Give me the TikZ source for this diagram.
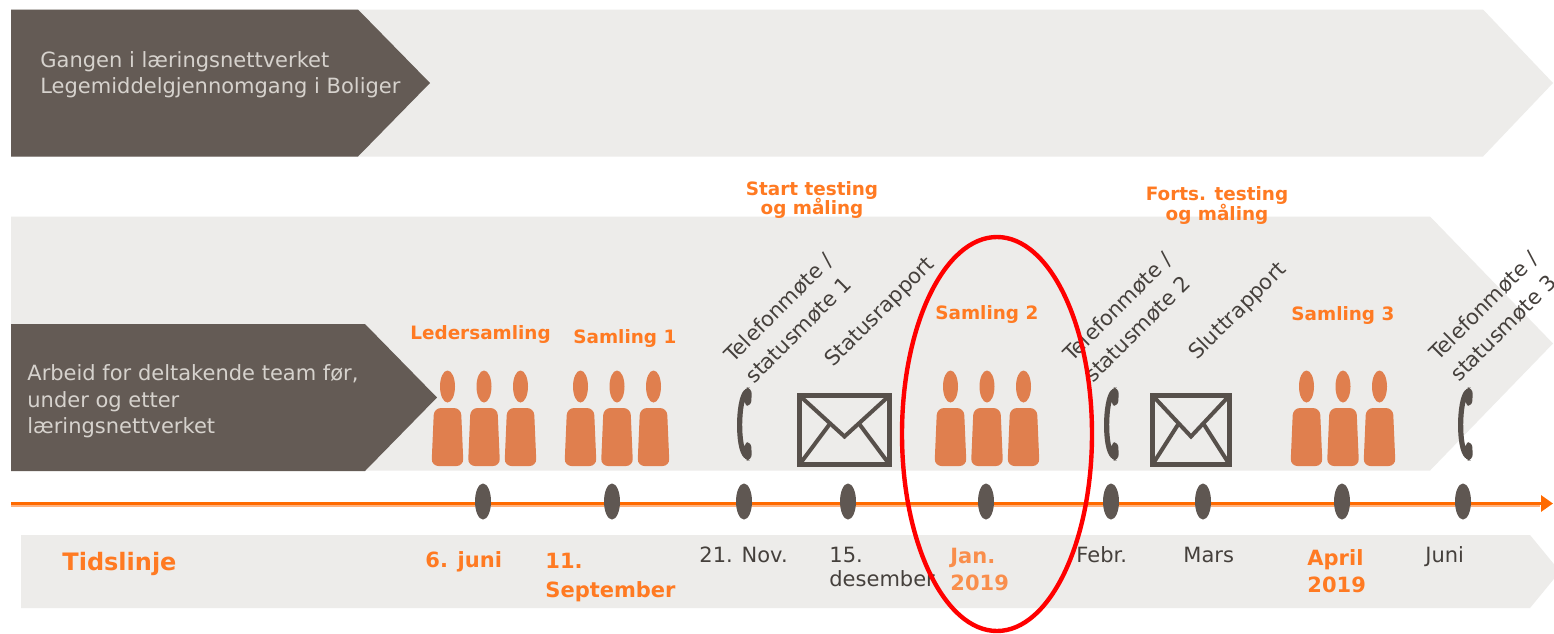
\documentclass[tikz,border=0pt]{standalone}
\usepackage{fontspec}
\setmainfont{DejaVu Sans}
\usetikzlibrary{shapes.geometric,arrows.meta}
\definecolor{darkbox}{HTML}{645B55}
\definecolor{bandgrey}{HTML}{EDECEA}
\definecolor{lighttxt}{HTML}{D6D2CD}
\definecolor{orangetxt}{HTML}{FF7A22}
\definecolor{orangejan}{HTML}{F98E4C}
\definecolor{peoplefill}{HTML}{E07F4E}
\definecolor{lineorange}{HTML}{FF6A00}
\definecolor{lineorangelight}{HTML}{FFB27F}
\definecolor{dotgrey}{HTML}{5F5752}
\definecolor{darktxt}{HTML}{45403C}
\definecolor{icongrey}{HTML}{57504B}
\definecolor{redring}{HTML}{FF0000}
\tikzset{
  lighttext/.style={font=\fontsize{10.5}{12}\selectfont, text=lighttxt, inner sep=0pt, anchor=base west},
  evlabel/.style={font=\fontsize{9.2}{11}\selectfont\bfseries, text=orangetxt, inner sep=0pt},
  datelbl/.style={font=\fontsize{10.5}{12}\selectfont, text=darktxt, inner sep=0pt, anchor=base west},
  odatelbl/.style={datelbl, font=\fontsize{10.5}{12}\selectfont\bfseries, text=orangetxt},
  rotlbl/.style={font=\fontsize{10.5}{12}\selectfont, text=darktxt, inner sep=0pt, anchor=base west, rotate=45},
  tdot/.style={ellipse, fill=dotgrey, minimum width=8pt, minimum height=18pt, inner sep=0pt},
  people/.pic={
    \foreach \dx in {-36.5,0,36.5}{
      \fill[peoplefill] (\dx,386.5) ellipse [x radius=7.5, y radius=16];
      \fill[peoplefill, rounded corners=3.5pt] (\dx-16,466) -- (\dx-13.5,408) -- (\dx+13.5,408) -- (\dx+16,466) -- cycle;
    }
  },
  phone/.pic={
    \draw[icongrey, line width=2.6pt, line cap=round] (1,392) .. controls (-7,400) and (-8,448) .. (1,456);
    \fill[icongrey, rounded corners=3pt] (-1,387) -- (7,388) -- (6,407) -- (-2,404) -- cycle;
    \fill[icongrey, rounded corners=3pt] (-2,444) -- (6,441) -- (7,460) -- (-1,461) -- cycle;
  },
  envelope/.pic={
    \draw[icongrey, line width=2.5pt] (0,0) rectangle (#1,69);
    \draw[icongrey, line width=2pt] (0,0) -- (#1/2,41) -- (#1,0);
    \draw[icongrey, line width=2pt] (0,69) -- (0.34*#1,28);
    \draw[icongrey, line width=2pt] (#1,69) -- (0.66*#1,28);
  }
}
\begin{document}
\begin{tikzpicture}[x=0.5pt,y=-0.5pt]
\useasboundingbox (0,0) rectangle (1554,633);
\clip (0,0) rectangle (1554,633);
\fill[white] (0,0) rectangle (1554,633);

% bands
\fill[bandgrey] (11,9.5) -- (1483,9.5) -- (1553,83) -- (1483,156.5) -- (11,156.5) -- cycle;
\fill[darkbox] (11,9.5) -- (358,9.5) -- (430,83) -- (358,156.5) -- (11,156.5) -- cycle;
\fill[bandgrey] (11,216.5) -- (1430,216.5) -- (1553,343.5) -- (1430,470.5) -- (11,470.5) -- cycle;
\fill[darkbox] (11,324) -- (365,324) -- (437,397.5) -- (365,471) -- (11,471) -- cycle;
\fill[bandgrey] (21,535) -- (1530,535) -- (1560,571.5) -- (1530,608) -- (21,608) -- cycle;

% texts in dark boxes
\node[lighttext] (gang1) at (40,67) {Gangen i læringsnettverket};
\node[lighttext] (gang2) at (40,93) {Legemiddelgjennomgang i Boliger};
\node[lighttext] (arb1) at (27,380) {Arbeid for deltakende team før,};
\node[lighttext] (arb2) at (27,407) {under og etter};
\node[lighttext] (arb3) at (27,433) {læringsnettverket};

% event labels
\node[evlabel, anchor=base west] (leder) at (410,339) {Ledersamling};
\node[evlabel, anchor=base west] (sam1) at (573,343) {Samling 1};
\node[evlabel, anchor=base west] (sam2) at (935,319) {Samling 2};
\node[evlabel, anchor=base west] (sam3) at (1291,320) {Samling 3};
\node[evlabel, anchor=base] (start1) at (812,195) {Start testing};
\node[evlabel, anchor=base] (start2) at (812,214) {og måling};
\node[evlabel, anchor=base] (forts1) at (1217,200) {Forts. testing};
\node[evlabel, anchor=base] (forts2) at (1217,220) {og måling};

% rotated labels
\node[rotlbl] (tel1a) at (733,364) {Telefonmøte /};
\node[rotlbl] (tel1b) at (754,385) {statusmøte 1};
\node[rotlbl] (statr) at (833,368) {Statusrapport};
\node[rotlbl] (tel2a) at (1072,363) {Telefonmøte /};
\node[rotlbl] (tel2b) at (1093,384) {statusmøte 2};
\node[rotlbl] (slutt) at (1197,361) {Sluttrapport};
\node[rotlbl] (tel3a) at (1438,362) {Telefonmøte /};
\node[rotlbl] (tel3b) at (1459,383) {statusmøte 3};

% icons
\pic (grp1) at (484,0) {people};
\pic (grp2) at (617,0) {people};
\pic (grp3) at (987,0) {people};
\pic (grp4) at (1343,0) {people};
\pic (ph1) at (745,0) {phone};
\pic (ph2) at (1112,0) {phone};
\pic (ph3) at (1466,0) {phone};
\pic (env1) at (799.5,395.5) {envelope=90};
\pic (env2) at (1152.5,395.5) {envelope=77};

% timeline
\coordinate (tllA) at (11,506);
\coordinate (tllB) at (1540,506);
\coordinate (tlstart) at (11,503.5);
\coordinate (tlend) at (1553,503.5);
\draw[lineorangelight, line width=1pt] (tllA) -- (tllB);
\draw[lineorange, line width=1.75pt, -{Triangle[length=6pt,width=8pt]}] (tlstart) -- (tlend);
\foreach \x/\n in {483/d1, 612/d2, 744/d3, 848/d4, 986/d5, 1111/d6, 1203/d7, 1342/d8, 1463/d9}
  \node[tdot] (\n) at (\x,501.5) {};

% timeline labels
\node[font=\fontsize{12}{14}\selectfont\bfseries, text=orangetxt, inner sep=0pt, anchor=base west] (tids) at (62,570) {Tidslinje};
\node[odatelbl] (dt1) at (425,567) {6. juni};
\node[odatelbl] (dt2a) at (545,568) {11.};
\node[odatelbl] (dt2b) at (545,597) {September};
\node[datelbl] (dt3) at (699,562) {21. Nov.};
\node[datelbl] (dt4a) at (829,562) {15.};
\node[datelbl] (dt4b) at (829,586) {desember};
\node[odatelbl, text=orangejan] (dt5a) at (950,563) {Jan.};
\node[odatelbl, text=orangejan] (dt5b) at (950,590) {2019};
\node[datelbl] (dt6) at (1076,562) {Febr.};
\node[datelbl] (dt7) at (1183,562) {Mars};
\node[odatelbl] (dt8a) at (1307,565) {April};
\node[odatelbl] (dt8b) at (1307,592) {2019};
\node[datelbl] (dt9) at (1425,562) {Juni};

% highlight ring
\node[ellipse, draw=redring, line width=2.2pt, minimum width=95pt, minimum height=197pt, inner sep=0pt] (ring) at (997,434) {};
\end{tikzpicture}
\end{document}
